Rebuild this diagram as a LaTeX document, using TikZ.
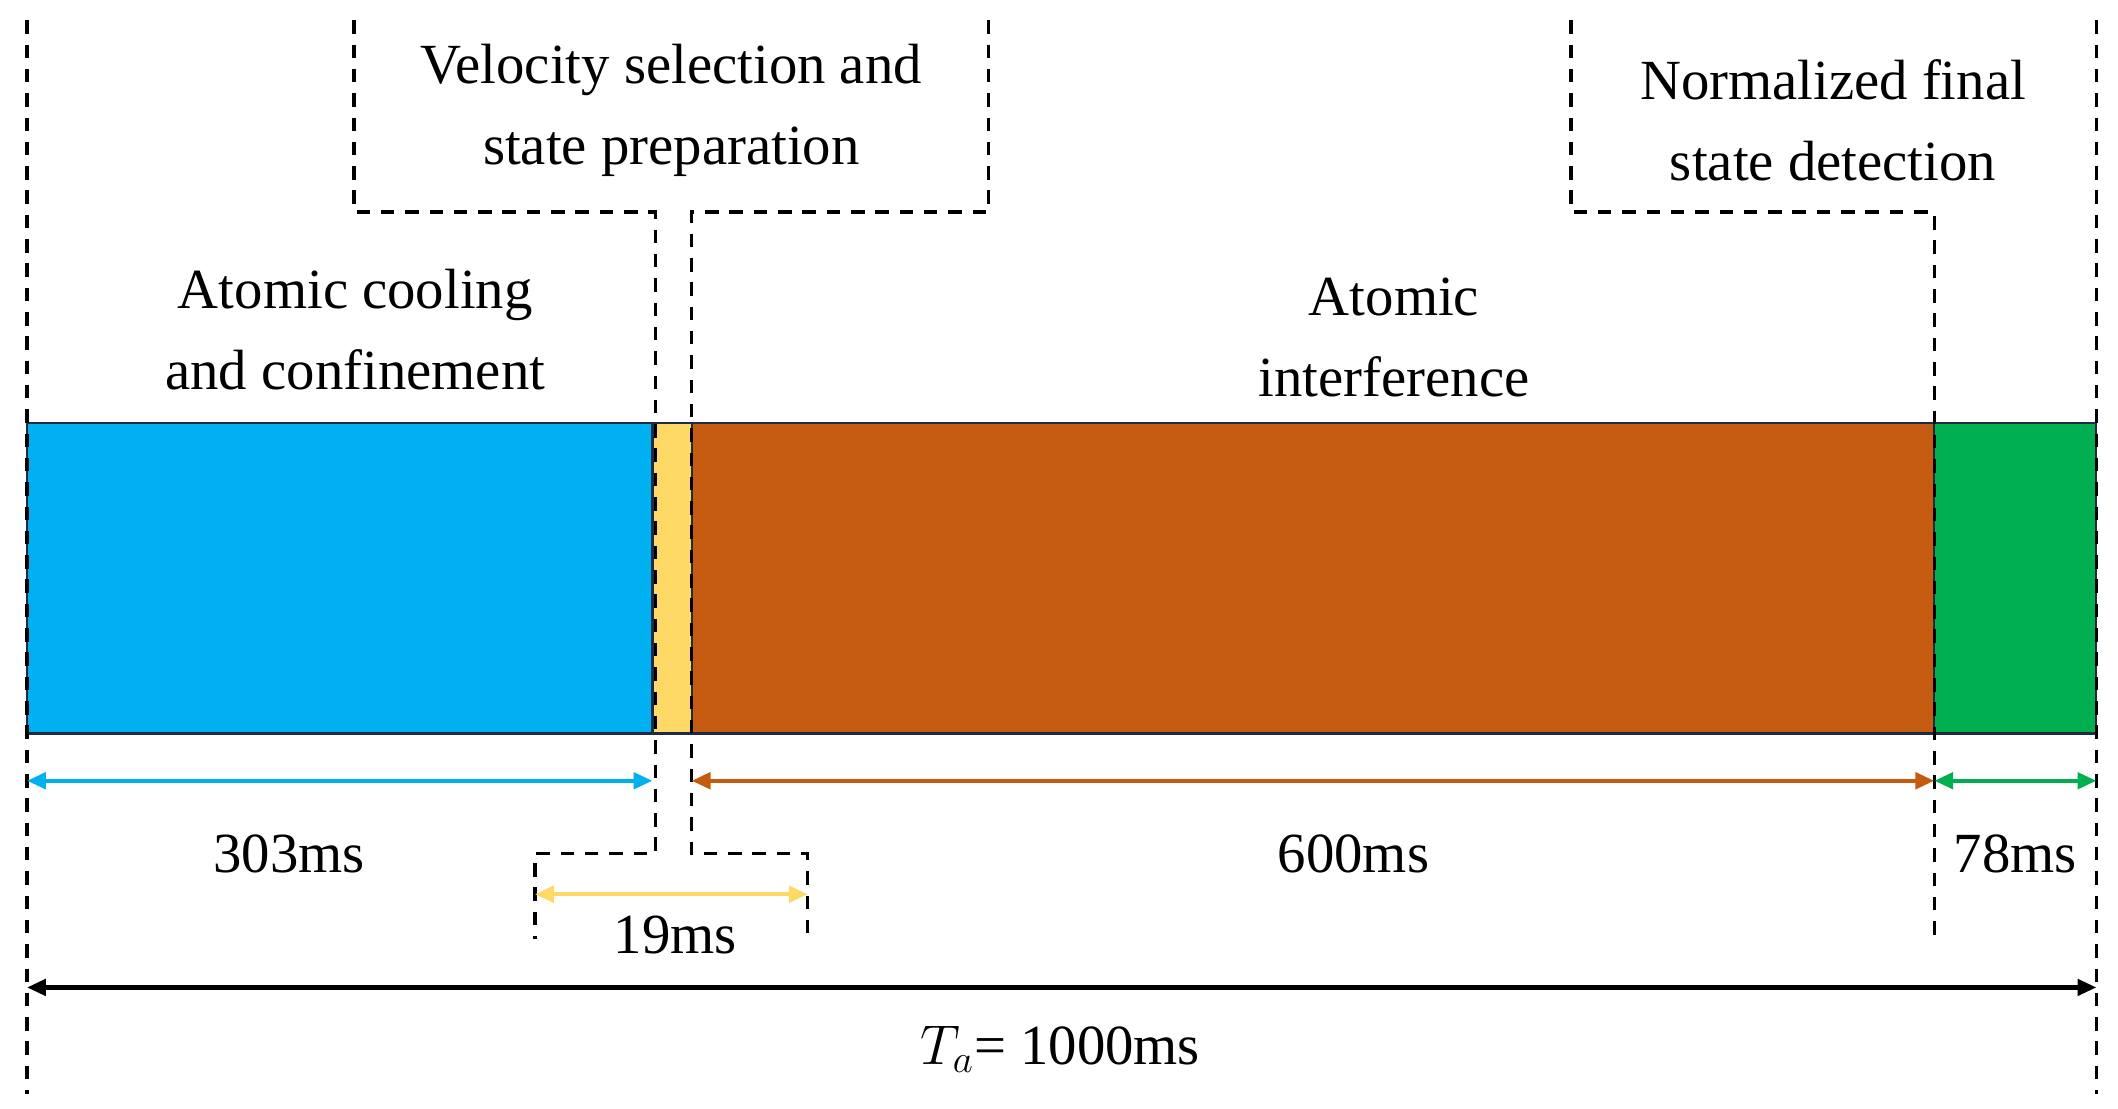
\documentclass[tikz,border=0pt]{standalone}
\usepackage{fontspec}
\setmainfont{Liberation Serif}
\usetikzlibrary{arrows.meta}
\definecolor{cblue}{HTML}{00B0F0}
\definecolor{cyel}{HTML}{FFD966}
\definecolor{corg}{HTML}{C55A11}
\definecolor{cgrn}{HTML}{00B050}
\definecolor{cnavy}{HTML}{1F2A44}
\begin{document}
\begin{tikzpicture}[x=0.5pt,y=-0.5pt,
  dl/.style={black,dashed,line width=1.2pt,dash pattern=on 5pt off 4pt},
  seg/.style={draw=cnavy,line width=0.8pt},
  dim/.style={line width=1.6pt,{Triangle[length=7pt,width=6pt]}-{Triangle[length=7pt,width=6pt]}},
  lbl/.style={font=\fontsize{21}{30}\selectfont,align=center,inner sep=0pt}]
\useasboundingbox (0,0) rectangle (1568,821);
% bars
\path[fill=cblue,seg] (20,313) rectangle (483,543);
\path[fill=cyel,seg] (483,313) rectangle (512,543);
\path[fill=corg,seg] (512,313) rectangle (1432,543);
\path[fill=cgrn,seg] (1432,313) rectangle (1552,543);
% dashed guides
\draw[dl] (20,15) -- (20,810);
\draw[dl] (1552,15) -- (1552,810);
\draw[dl] (262,15) -- (262,157) -- (485,157) -- (485,632) -- (396,632) -- (396,695);
\draw[dl] (732,15) -- (732,157) -- (512,157) -- (512,632) -- (598,632) -- (598,695);
\draw[dl] (1163,15) -- (1163,157) -- (1432,157) -- (1432,695);
% dimension arrows
\coordinate (b1) at (20,578); \coordinate (b2) at (483,578);
\coordinate (o1) at (512,578); \coordinate (o2) at (1432,578);
\coordinate (g1) at (1432,578); \coordinate (g2) at (1552,578);
\coordinate (y1) at (396,662); \coordinate (y2) at (598,662);
\coordinate (k1) at (20,731); \coordinate (k2) at (1552,731);
\draw[dim,cblue] (b1) -- (b2);
\draw[dim,corg] (o1) -- (o2);
\draw[dim,cgrn] (g1) -- (g2);
\draw[dim,cyel] (y1) -- (y2);
\draw[dim,black] (k1) -- (k2);
% labels
\node[lbl] (t1) at (497,82) {Velocity selection and\\state preparation};
\node[lbl] (t2) at (1357,89) {Normalized final\\state detection};
\node[lbl] (t3) at (263,244) {Atomic cooling\\and confinement};
\node[lbl] (t4) at (1032,250) {Atomic\\interference};
\node[lbl] (m1) at (214,632) {303ms};
\node[lbl] (m2) at (1002,632) {600ms};
\node[lbl] (m3) at (1492,632) {78ms};
\node[lbl] (m4) at (500,692) {19ms};
\node[lbl] (m5) at (785,777) {$T_a$= 1000ms};
\end{tikzpicture}
\end{document}
